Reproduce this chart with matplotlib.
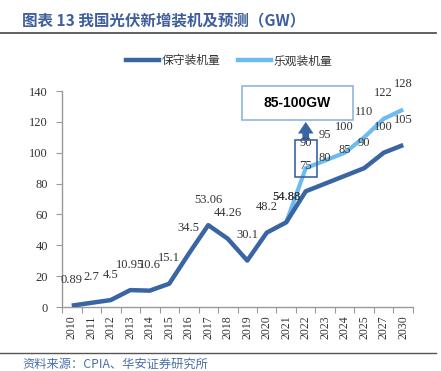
import numpy as np
import matplotlib.pyplot as plt
from matplotlib.patches import Rectangle

plt.rcParams['font.family'] = ['Liberation Serif', 'Noto Sans CJK SC']

years = ['2010', '2011', '2012', '2013', '2014', '2015', '2016', '2017', '2018',
         '2019', '2020', '2021', '2022', '2023', '2024', '2025', '2027', '2030']
conservative = [0.89, 2.7, 4.5, 10.95, 10.6, 15.1, 34.5, 53.06, 44.26,
                30.1, 48.2, 54.88, 75, 80, 85, 90, 100, 105]
opt_years = ['2021', '2022', '2023', '2024', '2025', '2027', '2030']
optimistic = [54.88, 90, 95, 100, 110, 122, 128]
box_text = '85-100GW'

dark = '#3A65A3'
light = '#6DBBF0'
txt_blue = '#3F5E9C'
axis_gray = '#9A9A9A'

fig = plt.figure(figsize=(4.41, 3.71), dpi=100)
ax = fig.add_axes([0.1406, 0.1725, 0.7959, 0.5822])

x = np.arange(len(years))
xo = np.array([years.index(y) for y in opt_years])

ax.plot(xo, optimistic, color=light, lw=3.0, solid_capstyle='butt', zorder=3)
ax.plot(x, conservative, color=dark, lw=3.2, solid_capstyle='butt', zorder=4)

for xi, v in zip(x, conservative):
    ax.annotate(f'{v:g}', (xi, v), xytext=(0, 14), textcoords='offset points',
                ha='center', va='bottom', fontsize=9, color='#333333', zorder=6)
for xi, v in zip(xo, optimistic):
    ax.annotate(f'{v:g}', (xi, v), xytext=(0, 14), textcoords='offset points',
                ha='center', va='bottom', fontsize=9, color='#333333', zorder=6)

ax.set_xlim(-0.5, len(years) - 0.5)
ax.set_ylim(0, 140)
ax.set_yticks(np.arange(0, 141, 20))
ax.set_xticks(np.arange(-0.5, len(years), 1.0))
ax.set_xticklabels([])
ax.set_xticks(x, minor=True)
ax.set_xticklabels(years, minor=True, rotation=90, fontsize=8.5, color='#333333')
ax.tick_params(axis='x', which='major', length=4, color=axis_gray, direction='out')
ax.tick_params(axis='x', which='minor', length=0, pad=6)
ax.tick_params(axis='y', length=4, color=axis_gray, direction='out', pad=6,
               labelsize=9, labelcolor='#333333')
for s in ['top', 'right']:
    ax.spines[s].set_visible(False)
for s in ['left', 'bottom']:
    ax.spines[s].set_color(axis_gray)
    ax.spines[s].set_linewidth(1.0)

# box around the 2022 labels and arrow up to the range box
i22 = years.index('2022')
ax.add_patch(Rectangle((i22 - 0.56, 84.2), 1.12, 24.0, fill=False, ec=dark,
                       lw=1.2, zorder=7, clip_on=False))
ax.annotate('', xy=(i22, 120.0), xytext=(i22, 108.2),
            arrowprops=dict(arrowstyle='simple,head_width=0.8,head_length=0.6,tail_width=0.35',
                            mutation_scale=14, color=dark, lw=0, shrinkA=0, shrinkB=0),
            annotation_clip=False)
ax.add_patch(Rectangle((8.72, 121.2), 5.68, 22.0, fill=True, fc='white', ec='#8DB4E2',
                       lw=1.2, zorder=7, clip_on=False))
ax.text(11.56, 132.2, box_text, ha='center', va='center', fontsize=10,
        fontweight='bold', family='Liberation Sans', zorder=8, clip_on=False)

# legend
h1, = ax.plot([], [], color=dark, lw=3.2)
h2, = ax.plot([], [], color=light, lw=3.2)
leg = fig.legend([h1, h2], ['保守装机量', '乐观装机量'], loc='center',
                 bbox_to_anchor=(0.52, 0.836), ncol=2, frameon=False,
                 prop={'family': 'Noto Sans CJK SC', 'size': 8.5},
                 handlelength=2.8, handletextpad=0.2, columnspacing=1.5)
for t in leg.get_texts():
    t.set_color('#333333')

# title, rules and source
fig.text(0.05, 0.946, '图表 13 我国光伏新增装机及预测（GW）', fontsize=11.2,
         fontweight='bold', color=txt_blue, va='center',
         family=['Noto Sans CJK SC', 'DejaVu Sans'])
fig.add_artist(plt.Line2D([0, 0.988], [0.911, 0.911], color='#555555', lw=1.3))
fig.add_artist(plt.Line2D([0, 0.988], [0.049, 0.049], color='#555555', lw=1.0))
fig.text(0.05, 0.018, '资料来源：CPIA、华安证券研究所', fontsize=8.8,
         color='#4A6FA8', va='center', family=['Noto Sans CJK SC', 'DejaVu Sans'])

fig.savefig('out.png', dpi=100)
